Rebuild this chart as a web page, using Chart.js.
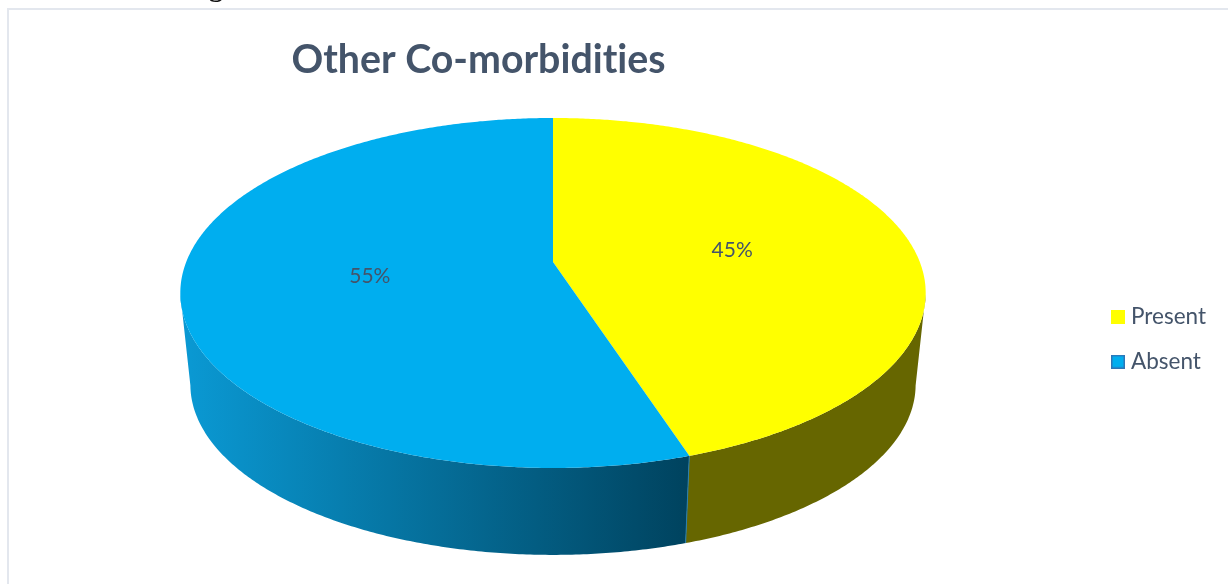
<!DOCTYPE html>
<html>
<head>
<meta charset="utf-8">
<title>Other Co-morbidities</title>
<script src="https://cdn.jsdelivr.net/npm/chart.js@4"></script>
<style>
  body { margin: 0; background: #fff; }
  #wrap { position: relative; width: 1228px; height: 584px; overflow: hidden; }
  #frame { position: absolute; left: 7px; top: 8px; right: -4px; bottom: -4px; border: 2px solid #e3e7ee; }
  canvas { position: absolute; left: 0; top: 0; }
</style>
</head>
<body>
<div id="wrap">
  <div id="frame"></div>
  <canvas id="chart" width="1228" height="584"></canvas>
</div>
<script>
const categories = ['Present', 'Absent'];
const percentages = [45, 55];
const sliceColors = ['#FFFF00', '#00AEEF'];
const legendEdges = ['#FFFF00', '#2E75B6'];

const textColor = '#44546A';
const fontFamily = 'Lato, "Open Sans", sans-serif';

// perspective of the tilted disc, relative to the radius chart.js gives the arc
const sx = 1.4, sy = 0.647, tilt = 0.177;
// lower rim of the disc
const rimScale = 0.973, rimDrop = 92.5;

function project(arc, angle, r, lower) {
  const u = Math.cos(angle) * r, v = Math.sin(angle) * r;
  const w = 1 - tilt * v;
  const s = lower ? rimScale : 1;
  return {
    x: arc.x + s * arc.outerRadius * sx * u / w,
    y: arc.y + (lower ? rimDrop : 0) + s * arc.outerRadius * sy * v / w
  };
}

function legendSwatch(fill, edge) {
  const c = document.createElement('canvas');
  c.width = 14;
  c.height = 14;
  const g = c.getContext('2d');
  g.fillStyle = edge;
  g.fillRect(0, 0, 14, 14);
  g.fillStyle = fill;
  g.fillRect(1.5, 1.5, 11, 11);
  return c;
}

const discPlugin = {
  id: 'disc',
  afterLayout(chart) {
    // pie centre and radius, title and legend sit apart from them
    chart.chartArea = { left: 291, right: 815, top: 0, bottom: 524, width: 524, height: 524 };
    chart.titleBlock.left = 0;
    chart.titleBlock.right = 957;
    chart.legend.left = 1093.75;
    chart.legend.right = 1228;
    chart.legend.top = 283;
    chart.legend.bottom = 400;
  },
  beforeDraw(chart) {
    // no "ti" ligature in the title
    chart.ctx.textRendering = 'optimizeSpeed';
  },
  beforeDatasetDraw(chart, args) {
    const ctx = chart.ctx;
    const arcs = args.meta.data;
    const step = Math.PI / 360;

    // side walls first, only the part in front of the widest points shows
    arcs.forEach((arc, i) => {
      let paint = '#666600';
      if (i === 1) {
        paint = ctx.createLinearGradient(190, 0, 686, 0);
        paint.addColorStop(0, '#0A98D2');
        paint.addColorStop(1, '#00435F');
      }
      ctx.beginPath();
      for (let a = arc.startAngle; a < arc.endAngle; a += step) {
        const b = Math.min(a + step, arc.endAngle);
        if (Math.sin(a) < tilt || Math.sin(b) < tilt) continue;
        const p1 = project(arc, a, 1), p2 = project(arc, b, 1);
        const p3 = project(arc, b, 1, true), p4 = project(arc, a, 1, true);
        ctx.moveTo(p1.x, p1.y);
        ctx.lineTo(p2.x, p2.y);
        ctx.lineTo(p3.x, p3.y);
        ctx.lineTo(p4.x, p4.y);
        ctx.closePath();
      }
      ctx.fillStyle = paint;
      ctx.fill();
    });

    // seam between the two wall sections
    const seam = arcs[1];
    const s1 = project(seam, seam.startAngle, 1), s2 = project(seam, seam.startAngle, 1, true);
    ctx.strokeStyle = '#2A7FAE';
    ctx.lineWidth = 1;
    ctx.beginPath();
    ctx.moveTo(s1.x, s1.y);
    ctx.lineTo(s2.x, s2.y);
    ctx.stroke();

    arcs.forEach(arc => {
      ctx.beginPath();
      ctx.moveTo(arc.x, arc.y);
      for (let a = arc.startAngle; a < arc.endAngle; a += step) {
        const p = project(arc, a, 1);
        ctx.lineTo(p.x, p.y);
      }
      const end = project(arc, arc.endAngle, 1);
      ctx.lineTo(end.x, end.y);
      ctx.closePath();
      ctx.fillStyle = arc.options.backgroundColor;
      ctx.fill();
    });

    // slice labels
    ctx.fillStyle = textColor;
    ctx.font = '21px ' + fontFamily;
    ctx.textAlign = 'center';
    ctx.textBaseline = 'middle';
    arcs.forEach((arc, i) => {
      const p = project(arc, (arc.startAngle + arc.endAngle) / 2, 0.5);
      ctx.fillText(percentages[i] + '%', p.x + 0.5, p.y + 1);
    });
    return false;
  },
  afterDraw(chart) {
    // descender of the caption line cut off above the figure
    const ctx = chart.ctx;
    ctx.fillStyle = '#111';
    ctx.font = 'bold 28px "Liberation Serif"';
    ctx.textAlign = 'left';
    ctx.textBaseline = 'alphabetic';
    ctx.fillText('g', 209, -4);
  }
};

new Chart(document.getElementById('chart'), {
  type: 'pie',
  data: {
    labels: categories,
    datasets: [{
      data: percentages,
      backgroundColor: sliceColors,
      borderWidth: 0
    }]
  },
  options: {
    responsive: false,
    animation: false,
    events: [],
    plugins: {
      title: {
        display: true,
        text: 'Other Co-morbidities',
        color: textColor,
        font: { family: fontFamily, size: 39.3, weight: 'bold' },
        padding: { top: 37, bottom: 0 }
      },
      legend: {
        position: 'right',
        align: 'start',
        labels: {
          color: textColor,
          font: { family: fontFamily, size: 22.5 },
          padding: 22.5,
          usePointStyle: true,
          boxWidth: 3.5,
          generateLabels: () => categories.map((text, i) => ({
            text,
            index: i,
            fontColor: textColor,
            pointStyle: legendSwatch(sliceColors[i], legendEdges[i])
          }))
        }
      },
      tooltip: { enabled: false }
    }
  },
  plugins: [discPlugin]
});
</script>
</body>
</html>
